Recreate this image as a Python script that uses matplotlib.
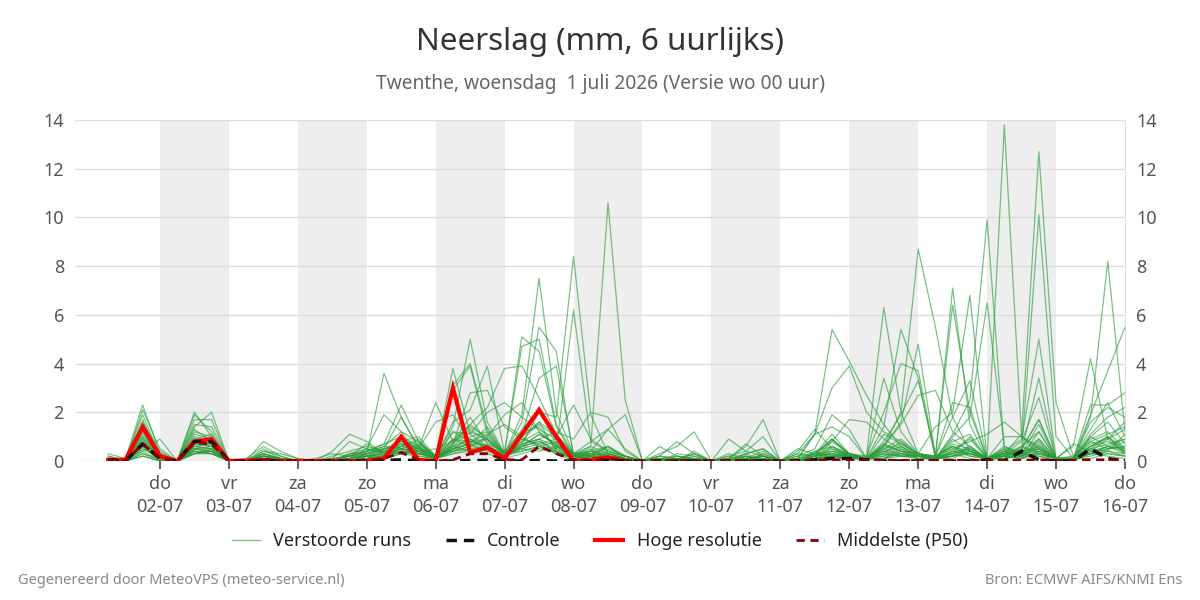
import matplotlib
matplotlib.use('Agg')
import matplotlib.pyplot as plt
import numpy as np
from matplotlib.lines import Line2D

plt.rcParams['font.family'] = ['Noto Sans', 'DejaVu Sans']

# ---------------- data ----------------
start_hour = 6      # first value: 1 juli 06 uur (hours since 1 juli 00 uur)
step_hours = 6

day_names = ['do', 'vr', 'za', 'zo', 'ma', 'di', 'wo', 'do', 'vr', 'za', 'zo', 'ma', 'di', 'wo', 'do']
day_dates = ['02-07', '03-07', '04-07', '05-07', '06-07', '07-07', '08-07', '09-07',
             '10-07', '11-07', '12-07', '13-07', '14-07', '15-07', '16-07']

verstoorde_runs = [
    [0.3,0.1,2.3, 0.3,0,2.0,1.0, 0,0,0.8,0.4, 0.1,0,0,0.1, 0.3,3.6,1.8,0.5, 0.1,1.2,0.8,0.6, 0.2,1.0,1.6,0.4, 0.1,0.3,0.2,0, 0,0.1,0,0, 0,0,0.2,0, 0,0.1,1.1,5.4, 4.1,2.7,1.5,0.6, 0.2,0.1,0.3,0.1, 0,0.2,0.1,0.4, 0.1,0,1.8,8.2, 1.2],
    [0.1,0,2.1, 0.5,0,1.9,1.2, 0,0.1,0.6,0.2, 0,0,0,0.3, 0.5,1.9,1.2,0.3, 0.2,3.8,1.1,0.6, 0.3,0.5,0.9,0.3, 0,0.2,0.4,0.1, 0,0,0.2,0.1, 0,0.1,0,0.3, 0,0,0.2,0.5, 0.3,0.2,6.3,2.0, 0.3,0.1,0.1,0.4, 0.1,0.3,1.1,12.7, 2.4,0.2,0.3,0.6, 0.3],
    [0,0.1,1.9, 0.2,0,1.7,1.7, 0,0,0.5,0.1, 0,0,0.1,0.2, 0.4,0.7,2.3,0.8, 0.2,1.4,5.0,1.6, 0.3,1.3,2.1,0.7, 0.2,0.6,0.3,0, 0,0,0,0.3, 0,0,0.3,0.5, 0,0,0.1,0.3, 0.2,0.1,0.6,2.0, 8.7,5.5,1.8,0.4, 0.1,0.1,0.6,0.3, 0.1,0.6,4.2,0.9, 0.3],
    [0,0,1.7, 0.1,0,1.5,1.4, 0,0,0.3,0.1, 0,0,0,0, 0.2,0.5,1.8,0.6, 0.1,0.6,1.2,0.9, 0.3,1.9,7.5,2.0, 0.3,0.2,0.1,0, 0,0,0.1,0, 0,0,0,0.2, 0,0.2,0.3,0.9, 0.2,0.1,0.4,0.3, 0.1,0.1,1.1,2.5, 9.9,0.4,0.3,0.2, 0,0.1,1.9,3.7, 5.5],
    [0.2,0,1.6, 0.4,0,1.4,2.0, 0,0,0.4,0.2, 0,0,0.2,0.4, 0.6,0.4,0.9,0.5, 2.4,0.8,1.8,0.7, 0.4,5.1,4.5,1.4, 0.2,0.1,0.2,0, 0,0.1,0,0, 0,0,0.1,0, 0,0,0.1,0.2, 0.3,0.1,0.1,0.5, 0.1,0.1,0.4,0.2, 0.1,13.8,1.0,0.5, 0.1,0,0.3,0.5, 0.8],
    [0,0,1.5, 0.1,0,1.3,0.8, 0,0,0.2,0, 0,0,0,0.2, 0.7,0.3,0.8,0.4, 0.1,3.1,4.0,1.3, 0.2,0.8,1.2,0.6, 0.1,0.4,0.6,0.2, 0,0,0,0, 0,0,0,0.1, 0,0,0.4,0.1, 0.2,0.1,1.4,5.4, 3.4,0.1,0.2,0.6, 0.1,0.5,0.4,10.1, 1.0,0.1,0.1,0.3, 0.2],
    [0.1,0,1.4, 0.2,0,1.2,1.0, 0,0,0.3,0.1, 0,0.1,0.3,0.2, 0.3,0.6,1.2,0.8, 0.1,1.6,2.1,3.9, 0.3,0.7,2.0,1.8, 8.4,1.9,0.3,0.1, 0,0,0.1,0, 0,0.2,0,0.2, 0,0,0,0.6, 0.3,0.1,0.2,0.3, 0.2,0.2,7.1,1.5, 0.1,0.1,0.3,0.8, 0,0.1,0.6,1.0, 0.4],
    [0,0,1.3, 0.3,0,1.1,0.9, 0,0,0.4,0.3, 0.1,0,0,0.1, 0.2,0.4,0.6,0.9, 0.1,0.7,1.5,2.2, 3.8,3.9,2.6,1.1, 0.3,0.6,10.6,2.5, 0,0,0,0.1, 0,0,0.1,0, 0,0.1,0.3,0.4, 0.2,0.1,0.5,0.7, 0.3,1.4,2.0,6.8, 0.1,0.2,0.1,0.4, 0.1,0.1,0.3,0.2, 0.1],
    [0.1,0,1.2, 0.1,0,1.0,0.8, 0,0,0.2,0.1, 0,0,0.1,0, 0.1,0.2,0.5,0.7, 0.2,0.5,1.0,1.2, 0.3,1.6,5.5,4.5, 0.2,0.1,0.3,0.1, 0,0.2,0.1,0, 0,0,0,0, 0,0,0.2,0.3, 0.1,0.1,0.2,0.6, 0.2,0.1,1.0,1.8, 6.5,0.6,0.2,0.3, 0.1,0,0.4,0.6, 0.9],
    [0,0,1.1, 0.2,0,0.9,0.7, 0,0,0.1,0, 0,0,0,0, 0.1,0.2,0.4,0.3, 0.1,0.9,0.6,1.0, 0.4,1.2,1.4,0.5, 6.2,0.8,0.4,0.2, 0,0,0.3,0.2, 0,0,0.1,0.4, 0,0,0.1,0.8, 0.3,0.1,0.7,0.4, 0.3,0.2,6.4,2.0, 0.1,0.3,0.2,1.2, 0.1,0.1,1.0,1.6, 0.7],
    [0.1,0,1.0, 0.1,0,0.8,0.9, 0,0,0.3,0.1, 0,0,0,0.3, 0.4,0.5,0.7,0.6, 0.2,0.4,0.8,0.9, 0.3,4.7,5.0,1.5, 0.3,0.4,1.3,0.5, 0,0.1,0,0, 0,0.1,0.2,0.1, 0,0.3,0.2,0.9, 0.3,0.1,0.6,1.6, 4.8,0.2,0.6,0.3, 0.1,0.4,0.9,5.0, 0.1,0.1,0.8,0.5, 0.6],
    [0,0,1.0, 0.2,0,0.7,0.6, 0,0,0.2,0.1, 0,0,0,0, 0.2,0.3,0.5,0.4, 0.1,0.7,2.8,2.9, 1.4,0.9,0.6,0.4, 0.2,0.5,0.1,0, 0,0.2,0.1,0.3, 0,0.1,0.3,0, 0,0.1,1.1,3.0, 3.9,2.0,1.2,0.8, 0.3,0.2,0.3,1.0, 0.1,0.2,0.5,1.7, 0.1,0.1,0.9,1.2, 0.5],
    [0,0,0.9, 0.1,0,0.6,0.7, 0,0,0.1,0, 0,0,0,0, 0.3,0.2,0.9,0.5, 0.1,2.9,3.9,1.1, 0.2,0.6,1.1,0.7, 0.2,0.1,0.2,0, 0,0,0,0, 0,0,0,0, 0,0,0,0.2, 0.2,0.2,2.0,4.0, 3.7,0.2,0.6,0.2, 0.1,0.2,0.1,0.9, 0.1,0.1,0.5,0.4, 1.1],
    [0.1,0,0.8, 0,0,0.6,0.5, 0,0,0.2,0.1, 0,0,0,0.1, 0.5,0.3,0.6,0.8, 0.2,0.5,0.7,1.4, 0.3,1.1,3.4,3.9, 0.3,0.3,0.2,0.1, 0,0,0.1,0, 0,0,0,0.1, 0,0,0.3,1.1, 0.3,0.1,3.4,1.2, 0.3,0.1,0.2,0.3, 0.1,0.3,0.4,3.4, 0.1,0.1,0.6,0.8, 0.4],
    [0,0,0.8, 0.2,0,0.5,0.5, 0,0,0.1,0, 0,0,0,0.2, 0.4,0.6,0.5,0.3, 0.2,1.2,1.1,2.0, 2.4,1.8,1.3,0.9, 0.3,0.2,0.6,0.1, 0,0,0,0, 0,0,0,0, 0,0,0.1,0.4, 0.2,0.1,0.6,1.5, 2.7,2.9,1.2,0.6, 0.1,0.1,0.2,0.6, 0.1,0.1,0.4,0.9, 1.6],
    [0,0,0.7, 0.1,0,0.5,0.4, 0,0,0,0, 0,0,0,0, 0.1,0.1,0.4,0.2, 0.1,0.6,0.9,0.5, 0.2,0.7,0.9,1.2, 0.9,2.0,1.8,0.4, 0,0,0,0.2, 0,0,0.1,0, 0,0,0.1,0.2, 0.1,0.1,0.1,0.3, 0.2,0.2,1.8,3.3, 0.1,0.3,0.8,2.6, 0.1,0.1,0.3,0.4, 0.2],
    [0.2,0,0.7, 0.3,0,0.4,0.4, 0,0,0.1,0, 0,0,0,0, 0.2,0.2,0.6,0.5, 1.6,1.9,0.8,0.6, 0.2,0.6,0.8,0.4, 0.2,0.1,0,0, 0,0.1,0.2,0.1, 0,0.3,0.1,0.2, 0,0.2,0.5,1.9, 1.3,0.1,0.4,0.2, 0.1,0.1,0.3,0.5, 0.1,0.3,0.6,1.2, 0.1,0.1,2.3,2.3, 2.8],
    [0,0,0.6, 0,0,0.3,0.4, 0,0,0.2,0.1, 0,0,0,0, 0.1,0.4,0.3,0.6, 0.1,0.3,0.5,0.6, 0.2,0.5,0.7,0.9, 0.3,0.8,1.3,1.9, 0,0.1,0,0.4, 0,0.1,0.6,1.7, 0,0,0.2,0.6, 0.2,0.1,0.3,0.8, 0.2,0.1,0.5,0.8, 1.1,1.6,1.0,0.3, 0.1,0.1,0.5,1.0, 0.3],
    [0,0,0.6, 0.2,0,0.4,0.3, 0,0,0,0, 0,0,0,0.3, 0.3,0.4,0.7,0.5, 0.1,0.4,0.6,0.9, 0.2,1.0,1.5,1.0, 2.3,0.9,0.4,0.2, 0,0.1,0.1,0, 0,0,0.2,0, 0,0.3,1.1,1.4, 1.0,0.1,0.5,0.3, 0.2,0.1,0.2,0.4, 0.1,0.3,0.4,0.9, 0.1,0.1,1.3,2.4, 1.0],
    [0.1,0,0.5, 0.1,0,0.4,0.3, 0,0,0.1,0, 0,0,0.4,1.1, 0.8,0.3,0.5,0.4, 0.1,0.6,0.4,0.7, 0.2,0.6,1.1,0.7, 0.2,0.4,0.3,0.1, 0,0.3,0.6,1.2, 0,0,0.3,0.5, 0,0,0.2,0.4, 0.3,0.1,1.1,0.7, 0.3,0.2,2.4,2.2, 0.1,0.4,0.3,0.5, 0.1,0.1,0.7,0.9, 1.3],
    [0,0,0.5, 0.2,0,0.5,0.6, 0,0,0.3,0.1, 0,0,0,0.2, 0.4,0.7,1.0,0.6, 0.1,0.5,0.7,0.4, 0.2,0.7,0.9,0.6, 0.3,0.2,0.1,0, 0,0,0,0, 0,0,0,0.3, 0,0,0.3,0.9, 0.3,0.1,0.8,1.9, 3.3,0.2,0.5,0.3, 0.1,0.5,0.3,1.5, 0.1,0.1,1.1,1.8, 2.2],
    [0,0,0.4, 0,0,0.3,0.3, 0,0,0,0, 0,0,0.1,0.2, 0.2,0.3,0.4,0.7, 0.2,0.9,0.8,1.1, 1.5,1.0,0.6,0.5, 0.2,0.3,0.5,0.2, 0,0,0,0, 0,0.9,0.4,0.2, 0,0.1,0.4,0.6, 0.2,0.1,0.6,0.4, 0.3,0.1,0.4,0.9, 0.1,0.3,0.5,1.7, 0.1,0.1,0.6,1.0, 0.5],
    [0,0.1,0.4, 0.9,0,0.3,0.4, 0,0,0.2,0.1, 0,0,0,0, 0.3,0.5,0.8,1.0, 0.2,0.4,0.6,0.5, 0.2,0.5,0.4,0.6, 0.2,0.2,0.3,0.1, 0,0.2,0.8,0.3, 0,0,0.2,0, 0,0.1,0.2,0.3, 0.2,0.1,0.5,0.9, 0.3,0.1,0.8,1.1, 0.1,0.6,0.3,0.4, 0.1,0.1,1.6,2.2, 1.8],
    [0,0,0.3, 0.1,0,0.6,0.5, 0,0,0.1,0, 0,0,0,0, 0.1,0.2,0.5,0.3, 0.2,0.8,1.5,0.9, 0.3,0.4,0.6,0.8, 0.2,0.3,0.2,0, 0,0,0.1,0.1, 0,0.2,0.4,1.0, 0,0,0.1,0.2, 0.1,0.1,0.7,0.4, 0.2,0.1,0.2,0.5, 0.1,0.2,0.4,0.6, 0.1,0.2,0.8,1.1, 1.4],
    [0.1,0,0.3, 0,0,0.5,0.4, 0,0,0.2,0.1, 0,0,0.1,0.8, 0.5,0.4,0.3,0.5, 0.1,0.5,0.9,0.6, 0.2,0.9,0.7,0.3, 0.2,0.1,0.2,0, 0,0,0.1,0, 0,0,0,0, 0,0,0.3,0.8, 1.7,1.6,0.9,0.5, 0.2,0.2,0.6,0.4, 0.1,0.3,0.1,0.3, 0.1,0.1,0.3,0.6, 0.4],
    [0,0,0.2, 0,0,0.4,0.3, 0,0,0,0, 0,0,0,0, 0.2,0.1,0.3,0.4, 0.1,0.4,0.5,0.3, 0.1,0.3,0.5,0.4, 0.1,0.2,0.1,0, 0,0.6,0.2,0.1, 0,0,0.1,0, 0,0,0.1,0.1, 0.1,0.1,0.3,0.2, 0.2,0.1,0.3,0.6, 0.1,1.0,1.0,0.6, 0.1,0.1,0.2,0.4, 0.3],
    [0,0,0.9, 0.1,0,0.7,0.6, 0,0,0.1,0, 0,0,0,0.1, 0.3,0.5,0.6,0.4, 0.5,0.8,1.4,1.0, 1.9,2.4,1.2,0.6, 0.3,0.4,0.2,0.1, 0,0,0,0, 0,0,0.1,0.2, 0,0.4,1.3,0.5, 0.2,0.1,0.4,0.6, 0.2,0.1,0.9,0.4, 0.1,0.2,0.4,0.5, 0.1,0.1,0.5,0.7, 0.9],
    [0,0,1.2, 0.2,0,0.9,1.1, 0,0,0.2,0.1, 0,0,0,0.1, 0.2,0.3,0.7,0.5, 0.2,0.7,1.3,0.8, 0.3,0.8,1.6,1.1, 0.2,0.3,0.6,0.2, 0,0.1,0,0, 0,0,0,0.1, 0,0,0.2,0.3, 0.2,0.1,0.1,0.4, 0.1,0.1,0.7,0.5, 0.1,0.4,0.2,0.7, 0.1,0.1,1.0,0.6, 0.5],
    [0,0,0.6, 0.1,0,0.8,0.7, 0,0,0.2,0, 0,0,0,0, 0.1,0.2,0.4,0.3, 0.1,0.5,0.7,0.6, 0.2,0.6,0.8,0.5, 0.2,0.2,0.1,0, 0,0,0,0, 0,0,0,0, 0,0.5,0.3,0.2, 0.1,0.1,0.3,0.2, 0.2,0.1,0.2,0.3, 0.1,0.3,0.2,0.5, 0.1,0.7,0.4,0.3, 0.2],
    [0,0,0.2, 0,0,0.3,0.5, 0,0,0,0, 0,0,0,0, 0.1,0.1,0.3,0.2, 0.1,0.3,0.4,0.5, 0.2,0.4,0.6,0.3, 0.1,0.1,0,0, 0,0,0.1,0.1, 0,0.1,0.7,0.2, 0,0,0.1,0.2, 0.2,0.1,0.1,0.2, 0.2,0.1,0.4,0.3, 0.1,0.1,0.3,0.2, 0.1,0.1,0.3,0.5, 0.6],
]

controle = [0.05,0,0.7, 0.1,0,0.8,0.8, 0,0,0.02,0, 0,0,0,0, 0,0.02,0.05,0, 0,0,0.02,0.02, 0,0,0.02,0, 0,0,0.02,0, 0,0,0,0, 0,0,0,0, 0,0,0.05,0.1, 0.1,0.05,0,0, 0,0,0,0, 0.05,0,0.4,0.05, 0,0,0.5,0.1, 0]

hoge_resolutie = [0.05,0.05,1.4, 0.2,0,0.8,0.9, 0,0.02,0.05,0, 0,0,0,0, 0,0.1,1.0,0.05, 0,3.0,0.35,0.55, 0.1,1.1,2.1,1.0, 0,0.05,0.15,0]

middelste = [0.05,0,0.7, 0.1,0,0.75,0.7, 0,0,0.05,0, 0,0,0,0, 0,0.1,0.35,0.05, 0,0.05,0.3,0.3, 0.05,0.05,0.6,0.3, 0.05,0,0.1,0.02, 0,0.02,0.02,0.02, 0,0.02,0.02,0.02, 0,0.02,0.03,0.05, 0.03,0.03,0.03,0.03, 0.02,0.03,0.03,0.03, 0.02,0.03,0.03,0.05, 0.02,0.03,0.05,0.05, 0.03]

for run in verstoorde_runs:
    if len(run) != 60:
        raise ValueError('run length %d' % len(run))

# ---------------- figure ----------------
times = start_hour + step_hours * np.arange(len(controle))

fig = plt.figure(figsize=(12, 6), dpi=100)
ax = fig.add_axes([75 / 1200, 1 - 461 / 600, 1050 / 1200, 341 / 600])

ax.set_xlim(-5.57, 359.65)
ax.set_ylim(0, 14)

# alternating day shading
for d in range(1, 15, 2):
    ax.axvspan(24 * d, 24 * (d + 1), color='#eeeeee', zorder=0, lw=0)

# grid
ax.set_yticks(range(0, 15, 2))
ax.yaxis.grid(True, color='#dddddd', lw=1, zorder=1)
ax.set_axisbelow(True)
for s in ['top', 'left', 'bottom']:
    ax.spines[s].set_visible(False)
ax.spines['right'].set_color('#dddddd')

# lines
for run in verstoorde_runs:
    ax.plot(times, run, color='#2a9d3a', alpha=0.62, lw=0.9, zorder=2)
ax.plot(times[:len(hoge_resolutie)], hoge_resolutie, color='#ff0000', lw=3, zorder=4,
        solid_joinstyle='miter')
ax.plot(times, controle, color='#111111', lw=2.5, ls=(0, (3, 2)), zorder=5)
ax.plot(times, middelste, color='#8b0000', lw=2, ls=(0, (3, 2)), zorder=6)

# ticks
ax.set_xticks([24 * (i + 1) for i in range(len(day_names))])
ax.set_xticklabels([f'{n}\n{d}' for n, d in zip(day_names, day_dates)], linespacing=1.4)
ax.tick_params(axis='x', length=6, width=1.5, color='#666666', labelcolor='#555555',
               labelsize=13, pad=4)
ax.tick_params(axis='y', length=0, labelcolor='#555555', labelsize=13, pad=8,
               labelleft=True, labelright=True)

# titles
fig.text(0.5, 1 - 42 / 600, 'Neerslag (mm, 6 uurlijks)', ha='center', va='center',
         fontsize=22.6, color='#333333')
fig.text(0.5, 1 - 84 / 600, 'Twenthe, woensdag  1 juli 2026 (Versie wo 00 uur)',
         ha='center', va='center', fontsize=13.8, color='#666666')

# legend
handles = [
    Line2D([], [], color='#7bc47f', lw=1),
    Line2D([], [], color='#111111', lw=2.5, ls=(0, (3, 2))),
    Line2D([], [], color='#ff0000', lw=3),
    Line2D([], [], color='#8b0000', lw=2, ls=(0, (3, 2))),
]
labels = ['Verstoorde runs', 'Controle', 'Hoge resolutie', 'Middelste (P50)']
fig.legend(handles, labels, loc='center', bbox_to_anchor=(0.5, 1 - 541 / 600), ncol=4,
           frameon=False, fontsize=13, handlelength=1.55, handletextpad=0.75,
           columnspacing=1.9, labelcolor='#222222')

# footer
fig.text(18 / 1200, 1 - 580 / 600, 'Gegenereerd door MeteoVPS (meteo-service.nl)',
         ha='left', va='center', fontsize=10.5, color='#888888')
fig.text(1182 / 1200, 1 - 580 / 600, 'Bron: ECMWF AIFS/KNMI Ens',
         ha='right', va='center', fontsize=10.5, color='#888888')

fig.savefig('out.png', dpi=100)
